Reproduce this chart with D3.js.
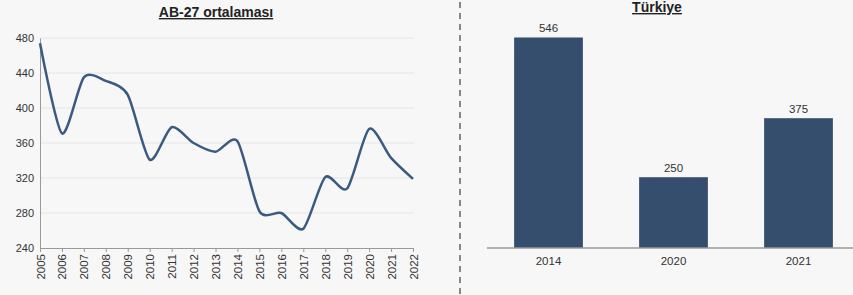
<!DOCTYPE html>
<html>
<head>
<meta charset="utf-8">
<script src="https://cdn.jsdelivr.net/npm/d3@7.9.0/dist/d3.min.js"></script>
<style>
  body { margin: 0; background: #f7f7f7; }
  svg { display: block; font-family: "Liberation Sans", Arial, sans-serif; }
</style>
</head>
<body>
<svg id="chart" width="853" height="295"></svg>
<script>
// --- AB-27 average (line) ---
const years = [2005, 2006, 2007, 2008, 2009, 2010, 2011, 2012, 2013, 2014, 2015, 2016, 2017, 2018, 2019, 2020, 2021, 2022];
const abValues = [474, 371, 435, 431, 415, 341, 378, 360, 350, 362, 282, 280, 262, 321, 308, 376, 343, 319];
const yTicks = [240, 280, 320, 360, 400, 440, 480];

// --- Türkiye (bars) ---
const trYears = ['2014', '2020', '2021'];
const trValues = [546, 250, 375];

const svg = d3.select('#chart');
const lineColor = '#3b5a80';
const barColor = '#354e6d';

// left panel
const x = d3.scalePoint().domain(years).range([40, 413]);
const y = d3.scaleLinear().domain([240, 480]).range([248, 38]);

// gridlines
svg.append('g')
  .selectAll('line')
  .data(yTicks.slice(1))
  .enter()
  .append('line')
  .attr('x1', 40).attr('x2', 414)
  .attr('y1', d => y(d)).attr('y2', d => y(d))
  .attr('stroke', '#e6e6e6')
  .attr('stroke-width', 1);

const yAxis = svg.append('g')
  .attr('transform', 'translate(40,0)')
  .call(d3.axisLeft(y).tickValues(yTicks).tickSize(0).tickPadding(6));
yAxis.select('.domain').attr('stroke', '#999');
yAxis.selectAll('text').attr('font-size', 11).attr('fill', '#333');

const xAxis = svg.append('g')
  .attr('transform', 'translate(0,248)')
  .call(d3.axisBottom(x).tickSize(4).tickFormat(d3.format('d')));
xAxis.select('.domain').attr('stroke', '#999');
xAxis.selectAll('line').attr('stroke', '#999');
xAxis.selectAll('text')
  .attr('font-size', 11.5)
  .attr('fill', '#333')
  .attr('transform', 'rotate(-90)')
  .attr('text-anchor', 'end')
  .attr('dy', '0.35em')
  .attr('x', -6)
  .attr('y', 0);

const line = d3.line()
  .x((d, i) => x(years[i]))
  .y(d => y(d))
  .curve(d3.curveCardinal.tension(0.25));

svg.append('path')
  .datum(abValues)
  .attr('d', line)
  .attr('fill', 'none')
  .attr('stroke', lineColor)
  .attr('stroke-width', 2.5);

svg.append('text')
  .attr('x', 216).attr('y', 17)
  .attr('text-anchor', 'middle')
  .attr('font-size', 14).attr('font-weight', 'bold')
  .attr('text-decoration', 'underline')
  .attr('fill', '#222')
  .text('AB-27 ortalaması');

// divider
svg.append('line')
  .attr('x1', 460).attr('x2', 460)
  .attr('y1', 2).attr('y2', 295)
  .attr('stroke', '#888')
  .attr('stroke-width', 2)
  .attr('stroke-dasharray', '6,5');

// right panel
const xb = d3.scaleBand().domain(trYears).range([486, 861]).paddingInner(0.45).paddingOuter(0.225);
const yb = d3.scaleLinear().domain([100, 600]).range([248, 12]);

svg.append('g')
  .selectAll('rect')
  .data(trValues)
  .enter()
  .append('rect')
  .attr('x', (d, i) => xb(trYears[i]))
  .attr('width', xb.bandwidth())
  .attr('y', d => yb(d))
  .attr('height', d => yb(100) - yb(d))
  .attr('fill', barColor);

svg.append('g')
  .selectAll('text')
  .data(trValues)
  .enter()
  .append('text')
  .attr('x', (d, i) => xb(trYears[i]) + xb.bandwidth() / 2)
  .attr('y', d => yb(d) - 5)
  .attr('text-anchor', 'middle')
  .attr('font-size', 11.5)
  .attr('fill', '#333')
  .text(d => d);

const xbAxis = svg.append('g')
  .attr('transform', 'translate(0,248)')
  .call(d3.axisBottom(xb).tickSize(0).tickPadding(9));
xbAxis.select('.domain').attr('stroke', '#999').attr('stroke-width', 1.5).attr('d', 'M487,0H853');
xbAxis.selectAll('text').attr('font-size', 11.5).attr('fill', '#333');

svg.append('text')
  .attr('x', 657).attr('y', 12)
  .attr('text-anchor', 'middle')
  .attr('font-size', 14).attr('font-weight', 'bold')
  .attr('text-decoration', 'underline')
  .attr('fill', '#222')
  .text('Türkiye');
</script>
</body>
</html>
